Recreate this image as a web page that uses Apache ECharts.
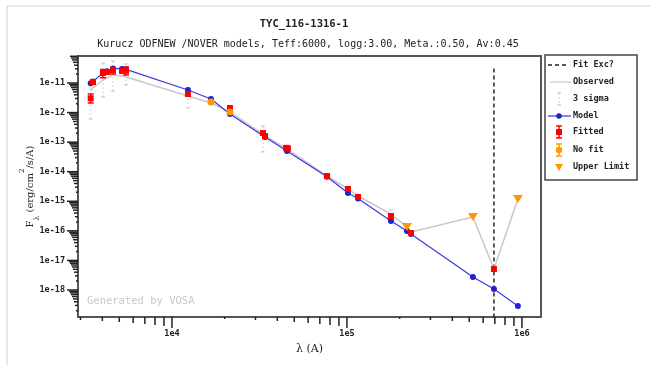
<!DOCTYPE html>
<html><head><meta charset="utf-8">
<script src="https://cdn.jsdelivr.net/npm/echarts@6/dist/echarts.min.js"></script>
<style>html,body{margin:0;padding:0;background:#fff}#c{width:650px;height:365px}</style>
</head><body><div id="c"></div>
<script>
// ---------- text ----------
const titleText = 'TYC_116-1316-1';
const subtitleText = 'Kurucz ODFNEW /NOVER models, Teff:6000, logg:3.00, Meta.:0.50, Av:0.45';
const watermark = 'Generated by VOSA';
const legendNames = ['Fit Exc?', 'Observed', '3 sigma', 'Model', 'Fitted', 'No fit', 'Upper Limit'];

// ---------- axes ----------
const xRange = [2904, 1.285e6];
const yRange = [1.22e-19, 8.18e-11];

// ---------- data ----------
// Observed (grey line)
const obsWave = [3432, 3537, 4034, 4252, 4602, 5179, 5461, 12340, 16710, 21450, 33110, 34000, 45400, 76900, 101300, 115600, 178400, 220300, 232100, 524800, 691800, 948000];
const obsFlux = [5.36e-12, 6.78e-12, 1.26e-11, 1.48e-11, 1.87e-11, 1.73e-11, 1.60e-11, 3.63e-12, 2.11e-12, 1.04e-12, 1.88e-13, 1.61e-13, 5.86e-14, 7.16e-15, 2.60e-15, 1.51e-15, 3.72e-16, 1.35e-16, 9.14e-17, 2.94e-16, 5.13e-18, 1.19e-15];

// Model (blue)
const modelWave = [3432, 3537, 4034, 4252, 4602, 5179, 5461, 12340, 16710, 21450, 34000, 45400, 76900, 101300, 115600, 178400, 220300, 232100, 524800, 691800, 948000];
const modelFlux = [9.77e-12, 1.12e-11, 2.2e-11, 2.5e-11, 3.1e-11, 3.0e-11, 2.9e-11, 5.8e-12, 2.88e-12, 8.95e-13, 1.49e-13, 5.0e-14, 6.8e-15, 1.9e-15, 1.25e-15, 2.15e-16, 9.9e-17, 7.8e-17, 2.75e-18, 1.08e-18, 2.88e-19];

// Fitted (red)
const fitWave = [3432, 3537, 4034, 4252, 4602, 5179, 5461, 12340, 21450, 33110, 34000, 44900, 46000, 76900, 101300, 115600, 178400, 232100, 691800];
const fitFlux = [3.04e-12, 1.08e-11, 2.18e-11, 2.35e-11, 2.75e-11, 2.55e-11, 2.60e-11, 4.25e-12, 1.43e-12, 2.04e-13, 1.61e-13, 6.4e-14, 6.2e-14, 7.16e-15, 2.60e-15, 1.40e-15, 3.18e-16, 8.45e-17, 5.13e-18];
const fitErrLo = [2.11e-12, null, 1.50e-11, null, 2.02e-11, null, 1.87e-11, null, null, null, null, null, null, null, null, null, null, null, null];
const fitErrHi = [4.25e-12, null, 2.85e-11, null, 3.36e-11, null, 3.47e-11, null, null, null, null, null, null, null, null, null, null, null, null];
const sig3Lo = [6.07e-13, null, 3.36e-12, null, 5.36e-12, null, 8.56e-12, 1.43e-12, null, 4.65e-14, null, null, null, null, null, null, 1.9e-16, null, null];
const sig3Hi = [6.78e-12, null, 4.74e-11, null, 5.54e-11, null, 4.40e-11, 7.0e-12, null, 3.52e-13, null, null, null, null, null, null, 5.07e-16, null, null];

// No fit (orange)
const noFitWave = [16710, 21450];
const noFitFlux = [2.28e-12, 1.04e-12];

// Upper limits (orange triangles)
const ulWave = [220300, 524800, 948000];
const ulFlux = [1.35e-16, 2.94e-16, 1.19e-15];

// Fit exclusion wavelength
const fitExcWave = [691800];

// ---------- build ----------
const zip = (a, b) => a.map((v, i) => [v, b[i]]);
const errData = (lo, hi) => fitWave.map((w, i) => lo[i] == null ? null : [w, lo[i], hi[i]]).filter(d => d);

const xTicks = [];
for (let n = 3; n <= 6; n++) for (let k = 1; k <= 9; k++) {
  const v = k * Math.pow(10, n);
  if (v >= xRange[0] && v <= xRange[1]) xTicks.push([v, yRange[0], k]);
}
const yTicks = [];
for (let n = -19; n <= -11; n++) for (let k = 1; k <= 9; k++) {
  const v = k * Math.pow(10, n);
  if (v >= yRange[0] && v <= yRange[1]) yTicks.push([xRange[0], v, k]);
}

const mono = 'DejaVu Sans Mono';
const serif = 'DejaVu Serif';

function tickRender(isX) {
  return function (params, api) {
    const p = api.coord([api.value(0), api.value(1)]);
    const k = api.value(2);
    const len = k === 1 ? 11 : k;
    const shape = isX ? { x1: p[0], y1: p[1], x2: p[0], y2: p[1] + len }
                      : { x1: p[0], y1: p[1], x2: p[0] - len, y2: p[1] };
    return { type: 'line', shape, style: { stroke: '#222', lineWidth: 1.5 } };
  };
}
function errRender(color, dotted, cap, lw) {
  return function (params, api) {
    const x = api.value(0);
    const p1 = api.coord([x, api.value(1)]);
    const p2 = api.coord([x, api.value(2)]);
    const st = { stroke: color, lineWidth: lw, lineDash: dotted ? [1.5, 2.5] : null };
    const cs = { stroke: color, lineWidth: lw };
    return { type: 'group', children: [
      { type: 'line', shape: { x1: p1[0], y1: p1[1], x2: p2[0], y2: p2[1] }, style: st },
      { type: 'line', shape: { x1: p1[0] - cap, y1: p1[1], x2: p1[0] + cap, y2: p1[1] }, style: cs },
      { type: 'line', shape: { x1: p2[0] - cap, y1: p2[1], x2: p2[0] + cap, y2: p2[1] }, style: cs }
    ]};
  };
}

const triPath = 'path://M0,0L10,0L5,8Z';
const exponent = v => Math.round(Math.log10(v));

// legend (drawn as graphics)
const LX = 545, LY = 55, LW = 92, LH = 125;
const rowY = [65, 82, 99, 116, 132, 150, 167];
const ix = 559;
const legendIcons = [
  [ {type:'line', shape:{x1:548,y1:rowY[0],x2:552,y2:rowY[0]}, style:{stroke:'#222',lineWidth:1.5}},
    {type:'line', shape:{x1:555,y1:rowY[0],x2:559,y2:rowY[0]}, style:{stroke:'#222',lineWidth:1.5}},
    {type:'line', shape:{x1:562,y1:rowY[0],x2:566,y2:rowY[0]}, style:{stroke:'#222',lineWidth:1.5}} ],
  [ {type:'line', shape:{x1:550,y1:rowY[1],x2:571,y2:rowY[1]}, style:{stroke:'#c8c8c8',lineWidth:1.2}} ],
  [ {type:'line', shape:{x1:ix,y1:rowY[2]-6,x2:ix,y2:rowY[2]+6}, style:{stroke:'#c8c8c8',lineWidth:1.2,lineDash:[1.5,2.5]}},
    {type:'line', shape:{x1:ix-2,y1:rowY[2]-6,x2:ix+2,y2:rowY[2]-6}, style:{stroke:'#c8c8c8',lineWidth:1.2}},
    {type:'line', shape:{x1:ix-2,y1:rowY[2]+6,x2:ix+2,y2:rowY[2]+6}, style:{stroke:'#c8c8c8',lineWidth:1.2}} ],
  [ {type:'line', shape:{x1:548,y1:rowY[3],x2:571,y2:rowY[3]}, style:{stroke:'#3333dd',lineWidth:1.2}},
    {type:'circle', shape:{cx:ix,cy:rowY[3],r:2.8}, style:{fill:'#2222cc'}} ],
  [ {type:'line', shape:{x1:ix,y1:rowY[4]-6,x2:ix,y2:rowY[4]+6}, style:{stroke:'#ff0000',lineWidth:1.5}},
    {type:'line', shape:{x1:ix-3,y1:rowY[4]-6,x2:ix+3,y2:rowY[4]-6}, style:{stroke:'#ff0000',lineWidth:1.5}},
    {type:'line', shape:{x1:ix-3,y1:rowY[4]+6,x2:ix+3,y2:rowY[4]+6}, style:{stroke:'#ff0000',lineWidth:1.5}},
    {type:'rect', shape:{x:ix-3,y:rowY[4]-3,width:6,height:6}, style:{fill:'#ff0000'}} ],
  [ {type:'line', shape:{x1:ix,y1:rowY[5]-6,x2:ix,y2:rowY[5]+6}, style:{stroke:'#ff9900',lineWidth:1.5}},
    {type:'line', shape:{x1:ix-3,y1:rowY[5]-6,x2:ix+3,y2:rowY[5]-6}, style:{stroke:'#ff9900',lineWidth:1.5}},
    {type:'line', shape:{x1:ix-3,y1:rowY[5]+6,x2:ix+3,y2:rowY[5]+6}, style:{stroke:'#ff9900',lineWidth:1.5}},
    {type:'circle', shape:{cx:ix,cy:rowY[5],r:3.2}, style:{fill:'#ff9900'}} ],
  [ {type:'polygon', shape:{points:[[ix-4,rowY[6]-3],[ix+4,rowY[6]-3],[ix,rowY[6]+4]]}, style:{fill:'#ff9900'}} ]
];
const legendGraphics = [
  { type: 'rect', shape: { x: LX, y: LY, width: LW, height: LH }, style: { fill: '#fff', stroke: '#444', lineWidth: 1.5 } }
];
legendIcons.forEach(a => a.forEach(g => legendGraphics.push(g)));
legendNames.forEach((n, i) => legendGraphics.push({
  type: 'text', x: 573, y: rowY[i],
  style: { text: n, fill: '#222', font: 'bold 8.5px "' + mono + '"', textVerticalAlign: 'middle', textAlign: 'left' }
}));

const chart = echarts.init(document.getElementById('c'), null, { renderer: 'canvas' });
chart.setOption({
  animation: false,
  backgroundColor: '#fff',
  title: [
    { text: titleText, left: 299, top: 14, textAlign: 'center',
      textStyle: { fontFamily: mono, fontWeight: 'bold', fontSize: 10.5, color: '#222' } },
    { text: subtitleText, left: 303, top: 34, textAlign: 'center',
      textStyle: { fontFamily: mono, fontWeight: 'normal', fontSize: 10, color: '#222' } }
  ],
  grid: { left: 78, top: 56, right: 109, bottom: 48, show: true, borderColor: '#555', borderWidth: 2, backgroundColor: '#fff' },
  xAxis: {
    type: 'log', logBase: 10, min: xRange[0], max: xRange[1],
    axisLine: { show: false }, axisTick: { show: false }, splitLine: { show: false },
    axisLabel: { showMinLabel: false, showMaxLabel: false, margin: 12,
      fontFamily: mono, fontWeight: 'bold', fontSize: 8.5, color: '#222',
      formatter: v => '1e' + exponent(v) },
    name: 'λ (A)', nameLocation: 'middle', nameGap: 27,
    nameTextStyle: { fontFamily: serif, fontSize: 11, color: '#222' }
  },
  yAxis: {
    type: 'log', logBase: 10, min: yRange[0], max: yRange[1],
    axisLine: { show: false }, axisTick: { show: false }, splitLine: { show: false },
    axisLabel: { showMinLabel: false, showMaxLabel: false, margin: 13,
      fontFamily: mono, fontWeight: 'bold', fontSize: 8.5, color: '#222',
      formatter: v => '1e' + exponent(v) },
    name: '{a|F}{s|λ}{a| (erg/cm}{p|2}{a|/s/A)}', nameLocation: 'middle', nameGap: 40, nameRotate: 90,
    nameMoveOverlap: false,
    nameTextStyle: {
      rich: {
        a: { fontFamily: serif, fontSize: 10, color: '#222', lineHeight: 16 },
        s: { fontFamily: serif, fontSize: 7.5, color: '#222', verticalAlign: 'bottom', lineHeight: 16, padding: [0, 0, -3, 0] },
        p: { fontFamily: serif, fontSize: 7, color: '#222', verticalAlign: 'top', lineHeight: 16, padding: [-3, 0, 0, 0] }
      }
    }
  },
  graphic: [
    { type: 'rect', shape: { x: 7, y: 6, width: 700, height: 400 }, style: { fill: 'none', stroke: '#cfcfcf', lineWidth: 1 }, z: -10 },
    { type: 'text', x: 87, y: 301, style: { text: watermark, fill: '#c8c8c8', font: '10.5px "' + mono + '"', textVerticalAlign: 'middle' }, z: 1 },
    { type: 'group', children: legendGraphics, z: 100 }
  ],
  series: [
    { name: 'xticks', type: 'custom', renderItem: tickRender(true), data: xTicks, silent: true, z: 1, encode: { x: 0, y: 1 } },
    { name: 'yticks', type: 'custom', renderItem: tickRender(false), data: yTicks, silent: true, z: 1, encode: { x: 0, y: 1 } },
    { name: 'Fit Exc?', type: 'line', symbol: 'none', z: 2,
      data: [[fitExcWave[0], Math.max(...modelFlux)], [fitExcWave[0], yRange[0]]],
      lineStyle: { color: '#333', width: 1.6, type: [4, 3] } },
    { name: 'Observed', type: 'line', symbol: 'none', z: 3, data: zip(obsWave, obsFlux),
      lineStyle: { color: '#c8c8c8', width: 1.5 } },
    { name: '3 sigma', type: 'custom', renderItem: errRender('#c8c8c8', true, 2, 1.1), z: 4,
      data: errData(sig3Lo, sig3Hi), encode: { x: 0, y: [1, 2] } },
    { name: 'Model', type: 'line', symbol: 'circle', symbolSize: 6, showSymbol: true, z: 5,
      data: zip(modelWave, modelFlux),
      lineStyle: { color: '#3838e0', width: 1.2 }, itemStyle: { color: '#2222cc' } },
    { name: 'FittedErr', type: 'custom', renderItem: errRender('#ff0000', false, 3, 1.5), z: 6,
      data: errData(fitErrLo, fitErrHi), encode: { x: 0, y: [1, 2] } },
    { name: 'Fitted', type: 'scatter', symbol: 'rect', symbolSize: 6, z: 7, data: zip(fitWave, fitFlux),
      itemStyle: { color: '#ff0000', opacity: 1 } },
    { name: 'No fit', type: 'scatter', symbol: 'circle', symbolSize: 7, z: 7, data: zip(noFitWave, noFitFlux),
      itemStyle: { color: '#ff9900', opacity: 1 } },
    { name: 'Upper Limit', type: 'scatter', symbol: triPath, symbolSize: [10, 8], z: 7, data: zip(ulWave, ulFlux),
      itemStyle: { color: '#ff9900', opacity: 1 } }
  ]
});
</script>
</body></html>
